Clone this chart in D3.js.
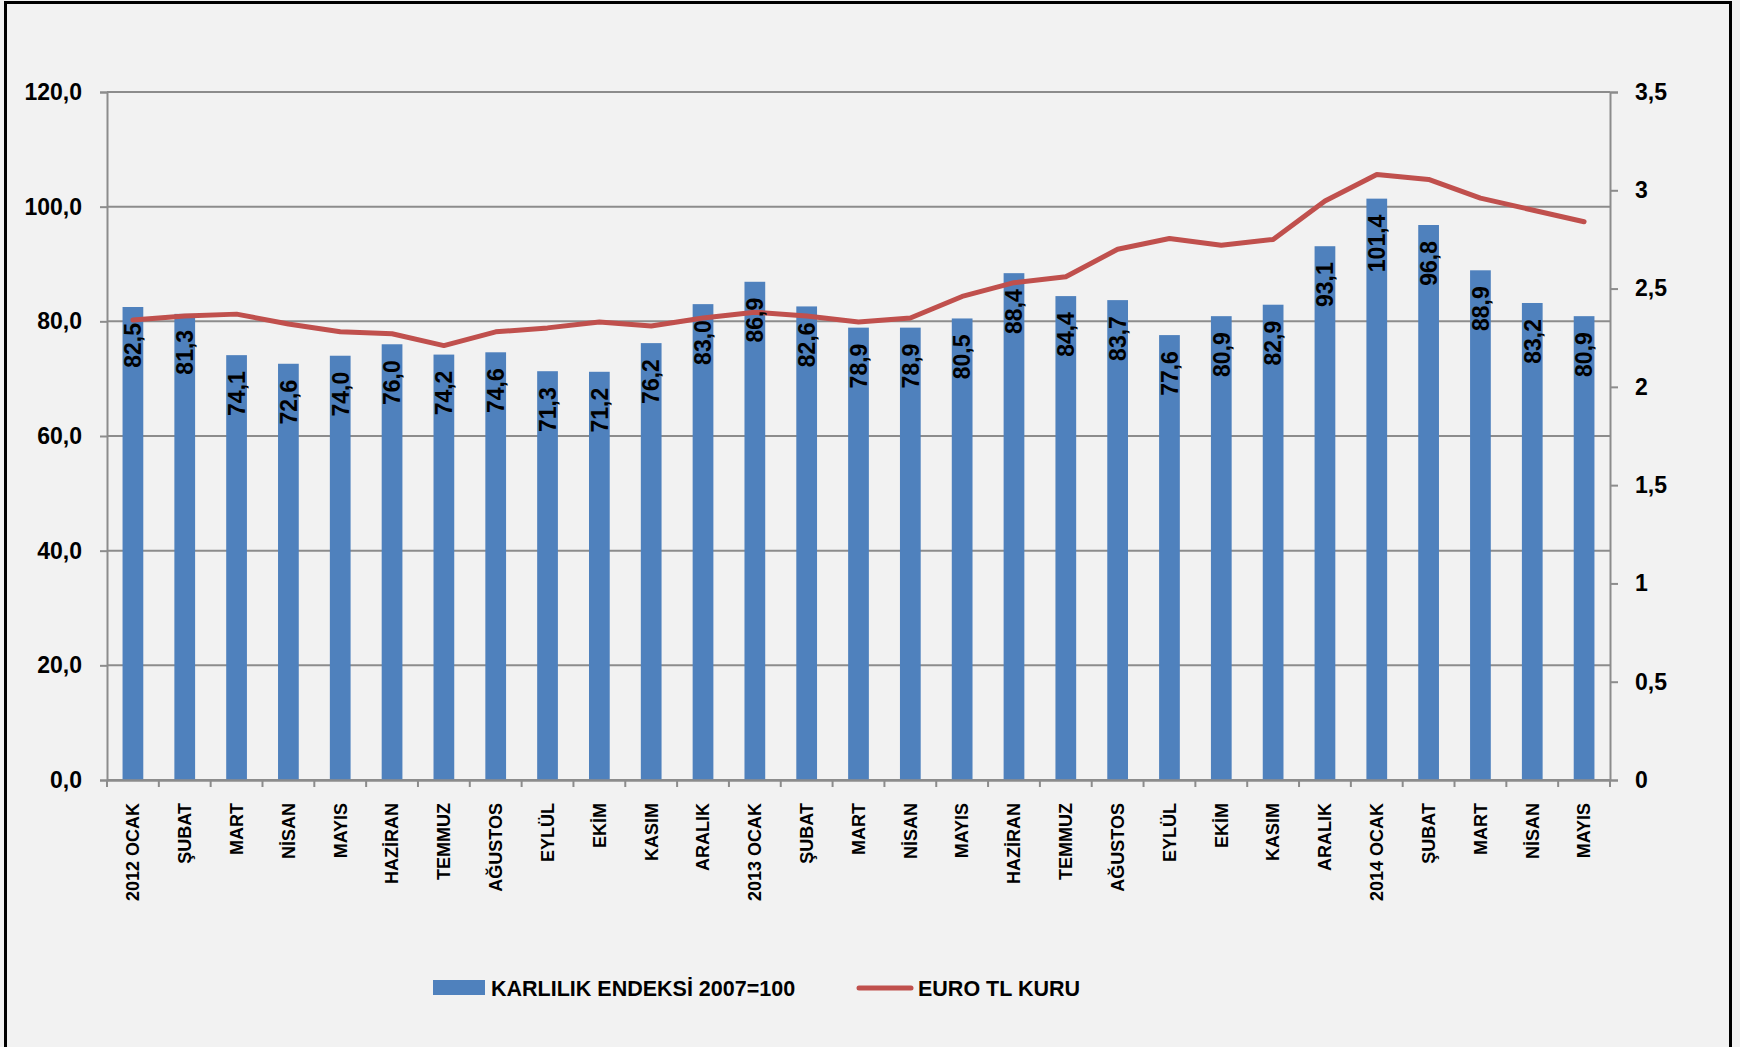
<!DOCTYPE html>
<html><head><meta charset="utf-8">
<script src="https://cdn.jsdelivr.net/npm/d3@7/dist/d3.min.js"></script>
<style>
html,body{margin:0;padding:0;background:#F2F2F2;}
svg{display:block;}
text{font-family:"Liberation Sans",Arial,sans-serif;font-weight:bold;fill:#000;}
</style></head>
<body><svg id="c" width="1740" height="1047"></svg>
<script>
const categories = ["2012 OCAK","ŞUBAT","MART","NİSAN","MAYIS","HAZİRAN","TEMMUZ","AĞUSTOS","EYLÜL","EKİM","KASIM","ARALIK",
  "2013 OCAK","ŞUBAT","MART","NİSAN","MAYIS","HAZİRAN","TEMMUZ","AĞUSTOS","EYLÜL","EKİM","KASIM","ARALIK",
  "2014 OCAK","ŞUBAT","MART","NİSAN","MAYIS"];
const karlilik = [82.5,81.3,74.1,72.6,74.0,76.0,74.2,74.6,71.3,71.2,76.2,83.0,
  86.9,82.6,78.9,78.9,80.5,88.4,84.4,83.7,77.6,80.9,82.9,93.1,
  101.4,96.8,88.9,83.2,80.9];
const euroTl = [2.34,2.36,2.37,2.32,2.28,2.27,2.21,2.28,2.30,2.33,2.31,2.35,
  2.38,2.36,2.33,2.35,2.46,2.53,2.56,2.70,2.755,2.72,2.75,2.945,
  3.08,3.055,2.96,2.90,2.84];
const leftTicks = [0,20,40,60,80,100,120];
const rightTicks = [0,0.5,1,1.5,2,2.5,3,3.5];
const seriesNames = ["KARLILIK ENDEKSİ 2007=100","EURO TL KURU"];

const svg = d3.select("#c");
const L = 107, R = 1610, T = 92, B = 780;
const barColor = "#4F81BD", lineColor = "#C0504D", gridColor = "#8C8C8C";

// outer border
svg.append("path").attr("d","M5.5,1047 L5.5,2.5 L1730.5,2.5 L1730.5,1047")
  .attr("fill","none").attr("stroke","#000").attr("stroke-width",3);

const x = d3.scaleBand().domain(d3.range(categories.length)).range([L,R]).padding(0);
const yL = d3.scaleLinear().domain([0,120]).range([B,T]);
const yR = d3.scaleLinear().domain([0,3.5]).range([B,T]);
const fmtL = v => d3.format(".1f")(v).replace(".",",");
const fmtR = v => String(v).replace(".",",");

// gridlines
svg.append("g").selectAll("line").data(leftTicks).join("line")
  .attr("x1",L).attr("x2",R).attr("y1",d=>yL(d)).attr("y2",d=>yL(d))
  .attr("stroke",gridColor).attr("stroke-width",2);

// left axis
const gl = svg.append("g").attr("transform",`translate(${L},0)`)
  .call(d3.axisLeft(yL).tickValues(leftTicks).tickFormat(fmtL).tickSize(7).tickPadding(18));
gl.select(".domain").attr("stroke",gridColor).attr("stroke-width",2);
gl.selectAll(".tick line").attr("stroke",gridColor).attr("stroke-width",2);
gl.selectAll("text").style("font-size","23px").attr("fill","#000").attr("font-family",null);

// right axis
const gr = svg.append("g").attr("transform",`translate(${R},0)`)
  .call(d3.axisRight(yR).tickValues(rightTicks).tickFormat(fmtR).tickSize(8).tickPadding(17));
gr.select(".domain").attr("stroke",gridColor).attr("stroke-width",2);
gr.selectAll(".tick line").attr("stroke",gridColor).attr("stroke-width",2);
gr.selectAll("text").style("font-size","23px").attr("fill","#000").attr("font-family",null);

// bars
const bw = x.bandwidth()*0.4;
svg.append("g").selectAll("rect").data(karlilik).join("rect")
  .attr("x",(d,i)=>x(i)+x.bandwidth()/2-bw/2).attr("width",bw)
  .attr("y",d=>yL(d)).attr("height",d=>B-yL(d))
  .attr("fill",barColor);

// bottom axis
const gb = svg.append("g").attr("transform",`translate(0,${B})`)
  .call(d3.axisBottom(x).tickValues([]).tickSizeOuter(0));
gb.select(".domain").attr("stroke",gridColor).attr("stroke-width",2.5);
svg.append("g").selectAll("line").data(d3.range(categories.length+1)).join("line")
  .attr("x1",i=>L+i*x.step()).attr("x2",i=>L+i*x.step())
  .attr("y1",B).attr("y2",B+7).attr("stroke",gridColor).attr("stroke-width",2);

// category labels
svg.append("g").selectAll("text").data(categories).join("text")
  .attr("transform",(d,i)=>`translate(${x(i)+x.bandwidth()/2},803) rotate(-90)`)
  .attr("text-anchor","end").attr("dy","0.35em")
  .style("font-size","18px").text(d=>d);

// line
const line = d3.line().x((d,i)=>x(i)+x.bandwidth()/2).y(d=>yR(d));
svg.append("path").datum(euroTl).attr("d",line)
  .attr("fill","none").attr("stroke",lineColor).attr("stroke-width",5)
  .attr("stroke-linejoin","round").attr("stroke-linecap","round");

// bar labels
svg.append("g").selectAll("text").data(karlilik).join("text")
  .attr("transform",(d,i)=>`translate(${x(i)+x.bandwidth()/2},${yL(d)+16}) rotate(-90)`)
  .attr("text-anchor","end").attr("dy","0.36em")
  .style("font-size","23px").text(d=>fmtL(d));

// legend
const lg = svg.append("g");
lg.append("rect").attr("x",433).attr("y",980).attr("width",52).attr("height",15).attr("fill",barColor);
lg.append("text").attr("x",491).attr("y",988).attr("dy","0.36em").style("font-size","21.5px").text(seriesNames[0]);
lg.append("line").attr("x1",859).attr("x2",911).attr("y1",988).attr("y2",988)
  .attr("stroke",lineColor).attr("stroke-width",5).attr("stroke-linecap","round");
lg.append("text").attr("x",918).attr("y",988).attr("dy","0.36em").style("font-size","21.5px").text(seriesNames[1]);
</script></body></html>
